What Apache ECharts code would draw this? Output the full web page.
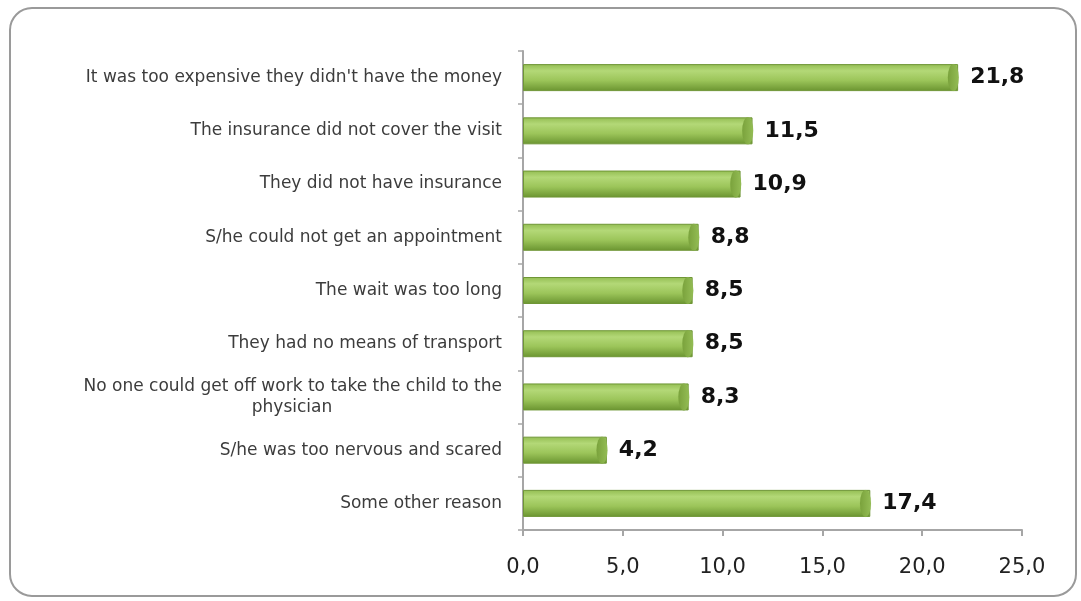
<!DOCTYPE html>
<html>
<head>
<meta charset="utf-8">
<style>
  html, body { margin: 0; padding: 0; background: #ffffff; }
  #chart { width: 1081px; height: 601px; }
</style>
<script src="https://cdn.jsdelivr.net/npm/echarts@6/dist/echarts.min.js"></script>
</head>
<body>
<div id="chart"></div>
<script>
// Reasons why the child did not see a physician (%)
const categories = [
  "It was too expensive they didn't have the money",
  "The insurance did not cover the visit",
  "They did not have insurance",
  "S/he could not get an appointment",
  "The wait was too long",
  "They had no means of transport",
  "No one could get off work to take the child to the\nphysician",
  "S/he was too nervous and scared",
  "Some other reason"
];
const values = [21.8, 11.5, 10.9, 8.8, 8.5, 8.5, 8.3, 4.2, 17.4];
const axisTicks = [0, 5, 10, 15, 20, 25];

const fmt = v => v.toFixed(1).replace('.', ',');

// value axis runs bottom-up, so reverse to keep the first reason on top
const cats = categories.slice().reverse();
const vals = values.slice().reverse();

const chart = echarts.init(document.getElementById('chart'), null, { renderer: 'canvas' });

const bodyGrad = new echarts.graphic.LinearGradient(0, 0, 0, 1, [
  { offset: 0, color: '#93bd52' },
  { offset: 0.25, color: '#b3d877' },
  { offset: 0.6, color: '#9cc55a' },
  { offset: 1, color: '#6a9430' }
]);
const capGrad = new echarts.graphic.LinearGradient(0, 0, 1, 0, [
  { offset: 0, color: '#7aa23c' },
  { offset: 1, color: '#94bd55' }
]);

const labelFont = 'DejaVu Sans';

chart.setOption({
  animation: false,
  graphic: [{
    type: 'rect',
    shape: { x: 10, y: 8, width: 1066, height: 588, r: 22 },
    style: { fill: 'none', stroke: '#9a9a9a', lineWidth: 2 },
    z: -1
  }],
  grid: { left: 523, right: 59, top: 51, bottom: 71, containLabel: false },
  xAxis: {
    type: 'value',
    min: axisTicks[0],
    max: axisTicks[axisTicks.length - 1],
    interval: 5,
    splitLine: { show: false },
    axisLine: { show: true, lineStyle: { color: '#a6a6a6', width: 2 } },
    axisTick: { show: true, length: 6, inside: false, lineStyle: { color: '#a6a6a6', width: 2 } },
    axisLabel: {
      formatter: v => fmt(v),
      fontFamily: labelFont,
      fontSize: 21,
      color: '#222',
      margin: 27
    }
  },
  yAxis: {
    type: 'category',
    data: cats,
    axisLine: { show: true, lineStyle: { color: '#a6a6a6', width: 2 } },
    axisTick: { show: true, length: 5, lineStyle: { color: '#a6a6a6', width: 1.5 } },
    axisLabel: {
      margin: 21,
      fontFamily: labelFont,
      fontSize: 17,
      color: '#3c3c3c',
      lineHeight: 21,
      formatter: function (v) {
        const parts = v.split('\n');
        if (parts.length === 1) return v;
        return parts[0] + '\n{c|' + parts[1] + '}';
      },
      rich: {
        c: {
          width: 420,
          align: 'center',
          fontFamily: labelFont,
          fontSize: 17,
          lineHeight: 21,
          color: '#3c3c3c'
        }
      }
    }
  },
  series: [
    {
      type: 'bar',
      data: vals,
      barWidth: 27,
      z: 2,
      itemStyle: {
        color: bodyGrad,
        borderColor: '#6f9636',
        borderWidth: 1
      },
      label: {
        show: true,
        position: 'right',
        distance: 12,
        formatter: p => fmt(p.value),
        fontFamily: labelFont,
        fontWeight: 'bold',
        fontSize: 22,
        color: '#111'
      }
    },
    {
      // rounded end cap of each cylinder
      type: 'pictorialBar',
      data: vals,
      symbol: 'circle',
      symbolSize: [11, 27],
      symbolPosition: 'end',
      symbolOffset: [1, 0],
      barGap: '-100%',
      z: 3,
      itemStyle: {
        color: capGrad,
        borderColor: '#668c2e',
        borderWidth: 1
      }
    }
  ]
});
</script>
</body>
</html>
